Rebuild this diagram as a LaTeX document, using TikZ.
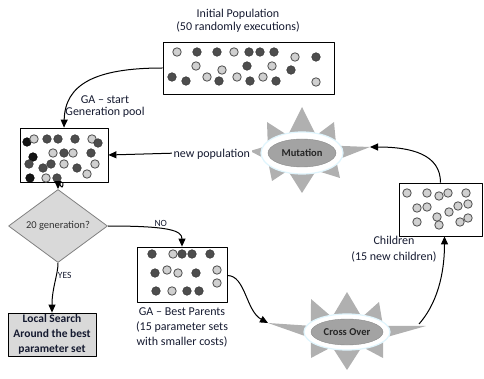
\documentclass[tikz,border=0pt]{standalone}
\usepackage{fontspec}
\setmainfont{Carlito}
\usetikzlibrary{shapes.geometric,arrows.meta,shadows}
\definecolor{dk}{HTML}{4D4D4D}
\definecolor{bk}{HTML}{141414}
\definecolor{lt}{HTML}{D0D0D0}
\definecolor{txt}{HTML}{151a30}
\definecolor{spk}{HTML}{B0B0B0}
\definecolor{inell}{HTML}{A3A3A3}
\begin{document}
\begin{tikzpicture}[x=1pt,y=-1pt,line join=round]
\tikzset{
  box/.style={draw=black, line width=0.8pt, fill=white, inner sep=0pt,
    drop shadow={shadow xshift=0.8pt, shadow yshift=-1.2pt, fill=blue!30, opacity=0.35}},
  lbl/.style={font=\fontsize{12}{13}\selectfont, text=txt, align=center, inner sep=0pt},
  arr/.style={draw=black, line width=1pt, -{Triangle[length=8pt,width=7pt]}},
  dd/.style={fill=dk, draw=dk!70!black, line width=0.5pt},
  db/.style={fill=bk, draw=black, line width=0.5pt},
  dl/.style={fill=lt, draw=black!65, line width=0.9pt},
  spike/.style={fill=spk},
  wring/.style={fill=white, draw=cyan!12, line width=1.2pt},
  gell/.style={fill=inell, draw=black!45, line width=0.4pt},
}
\useasboundingbox (0,0) rectangle (484,379);

% ---------- Initial population ----------
\node[box, minimum width=171pt, minimum height=52pt] (init) at (248.5,68) {};
\node[lbl] (initlbl) at (238,20.5) {Initial Population\\(50 randomly executions)};
\foreach \x/\y in {177/52,234/52,295/57,196/66,222/70,272/66,316/82,207/77,237/77,263/77}
  \draw[dl] (\x,\y) circle (4.2);
\foreach \x/\y in {197/52,217/52,249/52,260/52,274/52,316/57,247/66,291/70,172/77,186/81,219/81,250/81,276/81}
  \draw[dd] (\x,\y) circle (4.3);

% ---------- Generation pool ----------
\node[box, minimum width=88pt, minimum height=54pt] (pool) at (64,155) {};
\node[lbl, font=\fontsize{12}{12}\selectfont] (poollbl) at (105,107) {GA -- start\\Generation pool};
\foreach \x/\y in {27/142,33/157,30/178}
  \draw[db] (\x,\y) circle (4.3);
\foreach \x/\y in {34/139,92/139,53/153,73/153,64/164,95/164,87/174,46/178}
  \draw[dl] (\x,\y) circle (4.2);
\foreach \x/\y in {47/139,58/139,75/139,98/143,64/153,91/153,29/164,43/168,51/164,77/168,57/178}
  \draw[dd] (\x,\y) circle (4.3);

% ---------- Decision ----------
\node[diamond, draw=black!50, fill=black!15, line width=0.8pt, inner sep=0pt,
      minimum width=99pt, minimum height=42pt,
      font=\fontsize{10.5}{12}\selectfont, text=black!80] (dia) at (58,226) {20 generation?};

% ---------- Local search ----------
\node[box, fill=black!15, minimum width=88pt, minimum height=43pt, align=center,
      font=\bfseries\fontsize{11.5}{15}\selectfont, text=txt] (ls) at (52,334.5)
      {Local Search\\Around the best\\parameter set};

% ---------- Best parents ----------
\node[box, minimum width=90pt, minimum height=55pt] (bp) at (182,274.5) {};
\node[lbl, font=\fontsize{12}{15}\selectfont] (bplbl) at (182,327) {GA -- Best Parents\\(15 parameter sets\\with smaller costs)};
\foreach \x/\y in {173/254,167/270,178/273,217/270,172/291,217/283}
  \draw[dl] (\x,\y) circle (4.2);
\foreach \x/\y in {152/254,182/254,192/254,210/254,155/273,196/273,156/291,187/291,199/291}
  \draw[dd] (\x,\y) circle (4.3);

% ---------- Children ----------
\node[box, minimum width=83pt, minimum height=53pt] (ch) at (440.5,209.5) {};
\node[lbl, font=\fontsize{12}{16}\selectfont] (chlbl) at (394,249) {Children\\(15 new children)};
\foreach \x/\y in {407/193,427/193,439/196,448/193,466/193,417/208,427/207,458/206,468/204,449/212,417/222,437/217,439/225,460/222,468/218}
  \draw[dl] (\x,\y) circle (4.2);

% ---------- Mutation burst ----------
\begin{scope}[shift={(302,153)}]
  \fill[spike] (68,-6) -- ({37*cos(22.5)},{-19*sin(22.5)}) -- (32,-31) -- ({37*cos(67.5)},{-19*sin(67.5)})
    -- (0,-46) -- ({-37*cos(67.5)},{-19*sin(67.5)}) -- (-35,-31) -- ({-37*cos(22.5)},{-19*sin(22.5)})
    -- (-52,-2) -- ({-37*cos(22.5)},{19*sin(22.5)}) -- (-30,28) -- ({-37*cos(67.5)},{19*sin(67.5)})
    -- (0,40) -- ({37*cos(67.5)},{19*sin(67.5)}) -- (38,25) -- ({37*cos(22.5)},{19*sin(22.5)}) -- cycle;
  \coordinate (mutL) at (-52,-2);
  \coordinate (mutR) at (68,-6);
  \draw[wring] (0,0) ellipse (41 and 21);
  \draw[gell] (0,0) ellipse (34 and 14);
  \node[font=\bfseries\fontsize{10.5}{11}\selectfont, text=black!85] (mut) at (0,0) {Mutation};
\end{scope}

% ---------- Cross over burst ----------
\begin{scope}[shift={(347,332)}]
  \fill[spike] (79,-6) -- ({39*cos(22.5)},{-16*sin(22.5)}) -- (32,-30) -- ({39*cos(67.5)},{-16*sin(67.5)})
    -- (0,-40) -- ({-39*cos(67.5)},{-16*sin(67.5)}) -- (-36,-33) -- ({-39*cos(22.5)},{-16*sin(22.5)})
    -- (-79,-9) -- ({-39*cos(22.5)},{16*sin(22.5)}) -- (-36,26) -- ({-39*cos(67.5)},{16*sin(67.5)})
    -- (0,38) -- ({39*cos(67.5)},{16*sin(67.5)}) -- (36,26) -- ({39*cos(22.5)},{16*sin(22.5)}) -- cycle;
  \coordinate (coL) at (-79,-9);
  \coordinate (coR) at (72,-8);
  \draw[wring] (0,0) ellipse (43 and 18);
  \draw[gell] (0,0) ellipse (36 and 13);
  \node[font=\bfseries\fontsize{10.5}{11}\selectfont, text=black!85] (co) at (0,0) {Cross Over};
\end{scope}

% ---------- Connectors ----------
\draw[arr] (init.west) .. controls +(-68,0) and +(1,-43) .. (pool.north);
\draw[arr] (mutL) -- (pool.east)
  node[lbl, fill=white, inner sep=1.5pt, pos=0.27, yshift=-2pt] (newpop) {new population};
\draw[arr] ([xshift=-1pt]pool.south) .. controls +(0,12) and +(0,-10) .. (dia.north);
\draw[arr] (dia.south) .. controls +(0,12) and +(0,-25) .. (ls.north)
  node[lbl, font=\fontsize{9.5}{10}\selectfont, pos=0.33, anchor=west, xshift=1pt] (yes) {YES};
\draw[arr] (dia.east) .. controls +(62,0) and +(0,-16) .. (bp.north)
  node[lbl, font=\fontsize{9.5}{10}\selectfont, pos=0.4, anchor=south, yshift=1.5pt] (no) {NO};
\draw[arr] ([yshift=-1pt]bp.east) .. controls +(18,0) and +(-22,-12) .. (coL);
\draw[arr] (coR) .. controls +(22,-25) and +(0,28) .. ([xshift=4pt]ch.south);
\draw[arr] (ch.north) .. controls +(0,-28) and +(42,0) .. (mutR);
\end{tikzpicture}
\end{document}
